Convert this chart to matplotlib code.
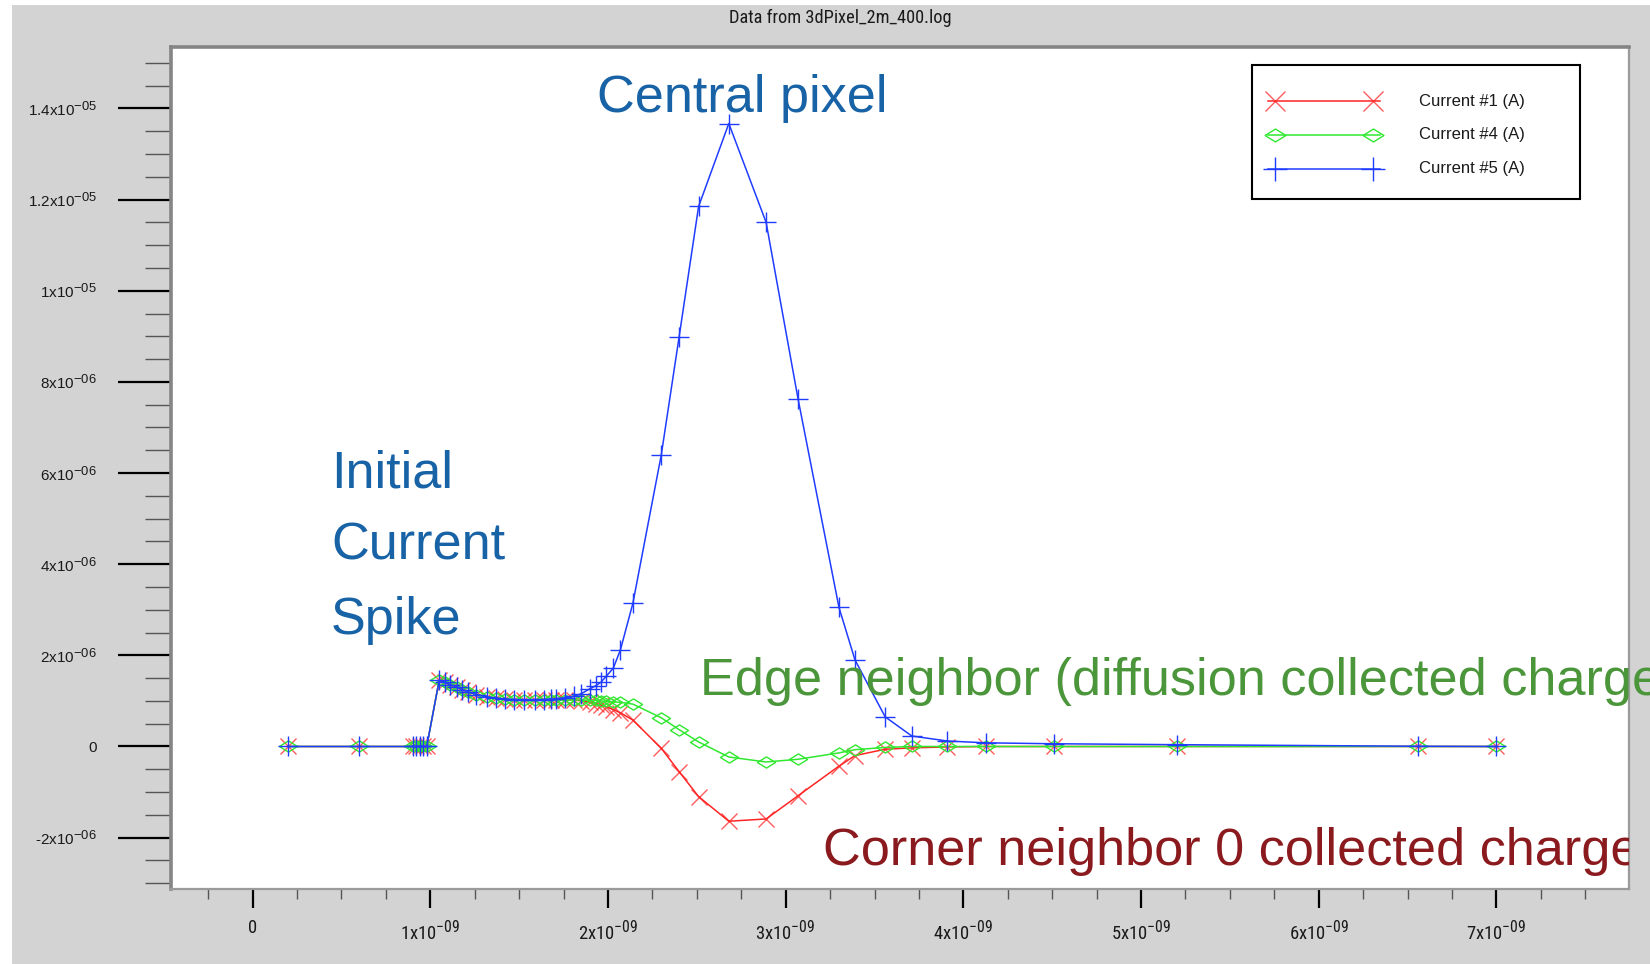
import numpy as np
import matplotlib
matplotlib.use("Agg")
import matplotlib.pyplot as plt
from matplotlib.lines import Line2D
from matplotlib.patches import Rectangle
from matplotlib.path import Path
from matplotlib.ticker import FixedLocator, MultipleLocator, FuncFormatter
from matplotlib.font_manager import FontProperties
from matplotlib import font_manager

# ---------------------------------------------------------------- data
time_ns = [0.20, 0.60, 0.90, 0.92, 0.94, 0.96, 0.98,
           1.05, 1.08, 1.11, 1.15, 1.18, 1.21, 1.26, 1.32, 1.37, 1.42,
           1.47, 1.53, 1.59, 1.64, 1.68, 1.71, 1.76, 1.81, 1.85, 1.90,
           1.93, 1.96, 1.99, 2.03, 2.07,
           2.14, 2.30, 2.40, 2.51, 2.68, 2.89, 3.07, 3.30, 3.39, 3.56,
           3.71, 3.91, 4.13, 4.51, 5.20, 6.56, 7.00]

# corner neighbour (uA)
current1_uA = [0, 0, 0, 0, 0, 0, 0,
               1.45, 1.41, 1.36, 1.30, 1.25, 1.20, 1.14, 1.09, 1.06, 1.04,
               1.03, 1.02, 1.02, 1.02, 1.02, 1.02, 1.02, 1.02, 1.00, 0.97,
               0.94, 0.91, 0.87, 0.81, 0.74,
               0.58, -0.04, -0.55, -1.10, -1.64, -1.59, -1.08, -0.43, -0.20, -0.06,
               -0.03, -0.01, 0, 0, 0, 0, 0]

# edge neighbour (uA)
current4_uA = [0, 0, 0, 0, 0, 0, 0,
               1.45, 1.41, 1.36, 1.30, 1.25, 1.20, 1.14, 1.09, 1.06, 1.04,
               1.03, 1.02, 1.02, 1.02, 1.02, 1.02, 1.02, 1.02, 1.02, 1.01,
               1.01, 1.00, 0.99, 0.98, 0.97,
               0.93, 0.63, 0.37, 0.10, -0.23, -0.34, -0.28, -0.14, -0.07, -0.02,
               0, 0, 0, 0, 0, 0, 0]

# central pixel (uA)
current5_uA = [0, 0, 0, 0, 0, 0, 0,
               1.45, 1.41, 1.36, 1.30, 1.25, 1.20, 1.14, 1.09, 1.06, 1.04,
               1.03, 1.03, 1.03, 1.03, 1.04, 1.05, 1.07, 1.10, 1.16, 1.27,
               1.33, 1.41, 1.54, 1.72, 2.12,
               3.14, 6.40, 8.98, 11.85, 13.67, 11.50, 7.62, 3.05, 1.90, 0.65,
               0.23, 0.12, 0.08, 0.06, 0.04, 0.005, 0.0]

series_labels = ["Current #1 (A)", "Current #4 (A)", "Current #5 (A)"]
title_text = "Data from 3dPixel_2m_400.log"
x_major_ticks = [0, 1e-9, 2e-9, 3e-9, 4e-9, 5e-9, 6e-9, 7e-9]
y_major_ticks = [-2e-6, 0, 2e-6, 4e-6, 6e-6, 8e-6, 1e-5, 1.2e-5, 1.4e-5]

# ---------------------------------------------------------------- fonts
SANS = "Liberation Sans"
plt.rcParams["font.family"] = [SANS, "DejaVu Sans"]
plt.rcParams["mathtext.fontset"] = "custom"
plt.rcParams["mathtext.default"] = "regular"

# larger exponents on the tick labels
try:
    import matplotlib._mathtext as _mt
    _mt.SHRINK_FACTOR = 0.85
except Exception:
    pass

# a narrow face for the time axis and the title, if one is installed
narrow_prop = None
preferred = ["Liberation Sans Narrow", "Roboto Condensed", "Open Sans Condensed",
             "DejaVu Sans", "Noto Sans"]
entries = font_manager.fontManager.ttflist
for name in preferred:
    for f in entries:
        if f.name == name and ("condensed" in str(f.stretch).lower()
                               or "narrow" in f.name.lower()
                               or "condensed" in f.name.lower()):
            if str(f.weight) in ("400", "normal", "regular", "book") and f.style == "normal":
                narrow_prop = dict(family=f.name, stretch=f.stretch)
                break
    if narrow_prop:
        break
if narrow_prop is None:
    narrow_prop = dict(family=SANS, stretch="normal")
    narrow_size = 0.93
else:
    narrow_size = 1.12

RED, GREEN, BLUE = "#ff2424", "#30e830", "#1f3cff"
TXT_BLUE, TXT_GREEN, TXT_RED = "#1862a6", "#4b963a", "#8b1a1f"

W, H = 1650, 964
fig = plt.figure(figsize=(W / 100, H / 100), dpi=100, facecolor="white")


def fx(px):
    return px / W


def fy(py):
    return 1 - py / H


# grey panel behind the plot
fig.add_artist(Rectangle((fx(11.6), 0), 1, fy(5.3), transform=fig.transFigure,
                         facecolor="#d3d3d3", edgecolor="none", zorder=-10))

ax = fig.add_axes([fx(170.5), fy(889), fx(1629) - fx(170.5), fy(47.4) - fy(889)])
ax.set_facecolor("white")

# flattened open diamond
flat_diamond = Path([(-1, 0), (0, 0.62), (1, 0), (0, -0.62), (-1, 0)],
                    [Path.MOVETO, Path.LINETO, Path.LINETO, Path.LINETO, Path.CLOSEPOLY])

t = np.array(time_ns) * 1e-9
styles = [
    dict(color=RED, marker="x", ms=12, mew=1.0, mec=(1, 0.15, 0.15, 0.75)),
    dict(color=GREEN, marker=flat_diamond, ms=13, mew=1.0, mfc="none", mec=GREEN),
    dict(color=BLUE, marker="+", ms=15, mew=1.0, mec=BLUE),
]
for vals, st in zip([current1_uA, current4_uA, current5_uA], styles):
    ax.plot(t, np.array(vals) * 1e-6, lw=1.1, **st)

ax.set_xlim(-0.462e-9, 7.746e-9)
ax.set_ylim(-3.127e-6, 15.34e-6)


def sci_label(v, pos=None):
    if abs(v) < 1e-20:
        return "0"
    e = int(np.floor(np.log10(abs(v)) + 1e-9))
    m = v / 10.0 ** e
    ms = f"{m:.1f}".rstrip("0").rstrip(".")
    return f"{ms}x10$^{{{e:03d}}}$"


ax.xaxis.set_major_locator(FixedLocator(x_major_ticks))
ax.xaxis.set_minor_locator(MultipleLocator(0.25e-9))
ax.yaxis.set_major_locator(FixedLocator(y_major_ticks))
ax.yaxis.set_minor_locator(MultipleLocator(0.5e-6))
ax.xaxis.set_major_formatter(FuncFormatter(sci_label))
ax.yaxis.set_major_formatter(FuncFormatter(sci_label))

ax.tick_params(axis="y", which="major", direction="out", length=38, width=1.6,
               color="black", pad=15, labelsize=11, labelcolor="#1a1a1a")
ax.tick_params(axis="y", which="minor", direction="out", length=19, width=1.0,
               color="#555555")
ax.tick_params(axis="x", which="major", direction="out", length=13.7, width=1.6,
               color="black", pad=8, labelcolor="#1a1a1a")
ax.tick_params(axis="x", which="minor", direction="out", length=7.2, width=1.0,
               color="#555555")
for lab in ax.get_xticklabels():
    lab.set_fontproperties(FontProperties(size=12 * narrow_size, **narrow_prop))

for side, lw, col in [("top", 2.6, "#858585"), ("left", 2.6, "#858585"),
                      ("right", 1.6, "#9a9a9a"), ("bottom", 1.6, "#9a9a9a")]:
    ax.spines[side].set_linewidth(lw)
    ax.spines[side].set_color(col)

# title
fig.text(fx(840), fy(18), title_text, ha="center", va="center", color="#1a1a1a",
         fontproperties=FontProperties(size=11.8 * narrow_size, **narrow_prop))

# annotations
ann = dict(fontsize=37.6, family=SANS, ha="left", va="baseline")
fig.text(fx(597), fy(112), "Central pixel", color=TXT_BLUE, **ann)
for line, base in zip(["Initial", "Current", "Spike"], [487.5, 560, 634]):
    fig.text(fx(331), fy(base), line, color=TXT_BLUE, **ann)
fig.text(fx(700), fy(694.5), "Edge neighbor (diffusion collected charge)",
         color=TXT_GREEN, **ann)
ax.text(fx(823), fy(865.5), "Corner neighbor 0 collected charge",
        transform=fig.transFigure, clip_on=True, color=TXT_RED, **ann)

# legend box
fig.add_artist(Rectangle((fx(1252), fy(199)), fx(1580) - fx(1252), fy(65) - fy(199),
                         transform=fig.transFigure, facecolor="white",
                         edgecolor="black", lw=1.5, zorder=5))
for row_y, st, lab in zip([101.3, 135.0, 168.7], styles, series_labels):
    fig.add_artist(Line2D([fx(1268), fx(1380)], [fy(row_y)] * 2, lw=1.1,
                          color=st["color"], zorder=6))
    st2 = {k: v for k, v in st.items() if k != "color"}
    st2["ms"] = st["ms"] + 2
    fig.add_artist(Line2D([fx(1275), fx(1373)], [fy(row_y)] * 2, ls="none",
                          color=st["color"], zorder=7, **st2))
    fig.text(fx(1419), fy(row_y), lab, ha="left", va="center", fontsize=12,
             family=SANS, color="#1a1a1a", zorder=7)

fig.savefig("out.png", dpi=100, facecolor=fig.get_facecolor())
